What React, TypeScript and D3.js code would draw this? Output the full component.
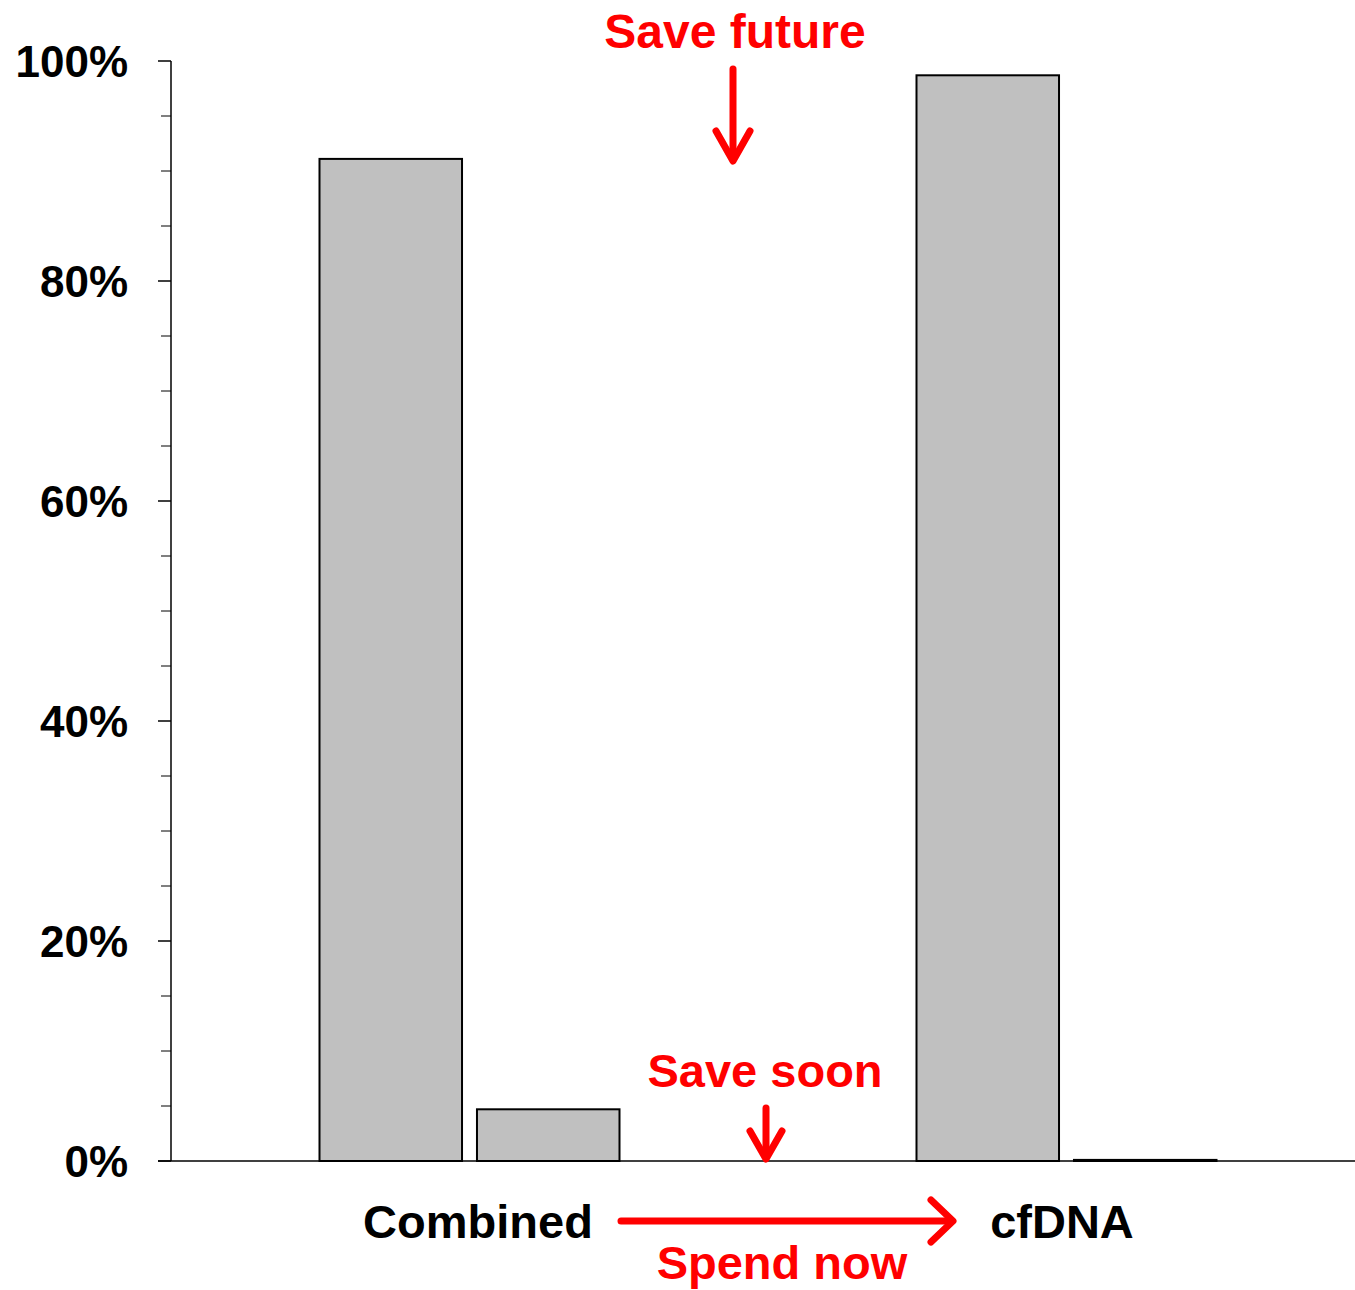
import React from "react";
import * as d3 from "d3";

const categories = ["Combined", "cfDNA"];
const seriesA = [91.1, 98.7];
const seriesB = [4.7, 0.1];
const majorTicks = [0, 20, 40, 60, 80, 100];
const minorTicks = [5, 10, 15, 25, 30, 35, 45, 50, 55, 65, 70, 75, 85, 90, 95];

const W = 1355;
const H = 1290;
const FONT = "'Liberation Sans', Arial, Helvetica, sans-serif";
const RED = "#FF0000";

export default function App() {
  const x0 = 171;
  const yBottom = 1161;
  const yTop = 61;
  const y = d3.scaleLinear().domain([0, 100]).range([yBottom, yTop]);
  const x = d3.scaleBand<string>().domain(categories).range([x0, x0 + 2 * 597]).padding(0);
  const inner = d3
    .scaleBand<string>()
    .domain(["a", "b"])
    .range([0, 300])
    .paddingInner(0.095);
  const groupOffset = (x.bandwidth() - 300) / 2;

  const rows = categories.map((c, i) => ({ c, a: seriesA[i], b: seriesB[i] }));

  const arrowDown = (cx: number, top: number, tip: number, arm: number, armDy: number) => (
    <g stroke={RED} strokeWidth={7} fill="none" strokeLinecap="round" strokeLinejoin="round">
      <line x1={cx} y1={top} x2={cx} y2={tip - 3} />
      <polyline points={`${cx - arm},${tip - armDy} ${cx},${tip} ${cx + arm},${tip - armDy}`} />
    </g>
  );

  return (
    <div style={{ position: "absolute", left: 0, top: 0 }}>
      <svg width={W} height={H} style={{ display: "block", background: "#fff" }}>
        {/* bars */}
        {rows.map((r) => {
          const gx = (x(r.c) as number) + groupOffset;
          return (
            <g key={r.c}>
              <rect
                x={gx + (inner("a") as number)}
                y={y(r.a)}
                width={inner.bandwidth()}
                height={yBottom - y(r.a)}
                fill="#C0C0C0"
                stroke="#000"
                strokeWidth={2}
              />
              <rect
                x={gx + (inner("b") as number)}
                y={y(r.b)}
                width={inner.bandwidth()}
                height={yBottom - y(r.b)}
                fill="#C0C0C0"
                stroke="#000"
                strokeWidth={2}
              />
            </g>
          );
        })}
        {/* y axis */}
        <line x1={x0} y1={yTop} x2={x0} y2={yBottom} stroke="#000" strokeWidth={1.5} />
        {majorTicks.map((t) => (
          <g key={"M" + t}>
            <line x1={x0 - 13} x2={x0} y1={y(t)} y2={y(t)} stroke="#000" strokeWidth={1.5} />
            <text
              x={128}
              y={y(t) + 15.5}
              textAnchor="end"
              fontFamily={FONT}
              fontWeight="bold"
              fontSize={44}
              fill="#000"
            >
              {t}%
            </text>
          </g>
        ))}
        {minorTicks.map((t) => (
          <line key={"m" + t} x1={x0 - 10} x2={x0} y1={y(t)} y2={y(t)} stroke="#000" strokeWidth={1} />
        ))}
        {/* x axis */}
        <line x1={x0 - 13} x2={W} y1={yBottom} y2={yBottom} stroke="#000" strokeWidth={1.5} />
        {/* category labels */}
        <text x={478} y={1238} textAnchor="middle" fontFamily={FONT} fontWeight="bold" fontSize={47} fill="#000">
          {categories[0]}
        </text>
        <text x={1062} y={1238} textAnchor="middle" fontFamily={FONT} fontWeight="bold" fontSize={47} fill="#000">
          {categories[1]}
        </text>
        {/* annotations */}
        <text x={735} y={48} textAnchor="middle" fontFamily={FONT} fontWeight="bold" fontSize={48} fill={RED}>
          Save future
        </text>
        {arrowDown(733, 69, 161, 17, 30)}
        <text x={765} y={1087} textAnchor="middle" fontFamily={FONT} fontWeight="bold" fontSize={47} fill={RED}>
          Save soon
        </text>
        {arrowDown(766, 1108, 1159, 16, 28)}
        <g stroke={RED} strokeWidth={7} fill="none" strokeLinecap="round" strokeLinejoin="round">
          <line x1={621} y1={1221} x2={950} y2={1221} />
          <polyline points={`${931},${1200} ${953},${1221} ${931},${1242}`} />
        </g>
        <text x={782} y={1279} textAnchor="middle" fontFamily={FONT} fontWeight="bold" fontSize={47} fill={RED}>
          Spend now
        </text>
      </svg>
    </div>
  );
}
